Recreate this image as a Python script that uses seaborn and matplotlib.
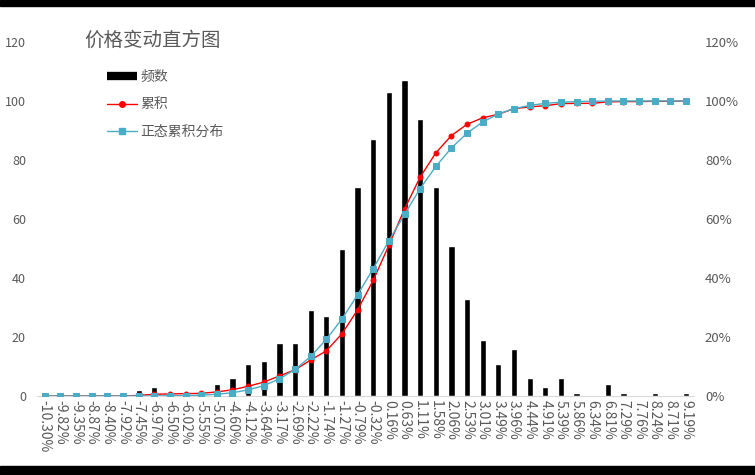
import matplotlib
matplotlib.use("Agg")
import matplotlib.pyplot as plt
import seaborn as sns
from matplotlib.lines import Line2D
from matplotlib.patches import Rectangle
from matplotlib.ticker import PercentFormatter

bins = ["-10.30%", "-9.82%", "-9.35%", "-8.87%", "-8.40%", "-7.92%", "-7.45%",
        "-6.97%", "-6.50%", "-6.02%", "-5.55%", "-5.07%", "-4.60%", "-4.12%",
        "-3.64%", "-3.17%", "-2.69%", "-2.22%", "-1.74%", "-1.27%", "-0.79%",
        "-0.32%", "0.16%", "0.63%", "1.11%", "1.58%", "2.06%", "2.53%",
        "3.01%", "3.49%", "3.96%", "4.44%", "4.91%", "5.39%", "5.86%",
        "6.34%", "6.81%", "7.29%", "7.76%", "8.24%", "8.71%", "9.19%"]

freq = [0, 0, 0, 0, 0, 0, 2, 3, 1, 1, 1, 4, 6, 11, 12, 18, 18, 29, 27, 50, 71,
        87, 103, 107, 94, 71, 51, 33, 19, 11, 16, 6, 3, 6, 1, 0, 4, 1, 0, 1, 0, 1]

# cumulative share, %
cum_pct = [0, 0, 0, 0, 0, 0, 0.2, 0.6, 0.7, 0.8, 0.9, 1.4, 2.1, 3.3, 4.7, 6.8,
           8.9, 12.2, 15.3, 21.1, 29.2, 39.2, 51.1, 63.4, 74.2, 82.4, 88.3,
           92.1, 94.3, 95.5, 97.4, 98.0, 98.4, 99.1, 99.2, 99.2, 99.7, 99.8,
           99.8, 99.9, 99.9, 100.0]

# normal cumulative distribution, %
norm_pct = [0, 0, 0, 0, 0, 0, 0, 0, 0.1, 0.1, 0.3, 0.6, 1.1, 2.1, 3.5, 5.8,
            9.0, 13.4, 19.2, 26.1, 34.3, 43.2, 52.6, 61.6, 70.3, 77.8, 84.1,
            89.1, 92.9, 95.6, 97.4, 98.5, 99.2, 99.6, 99.8, 99.9, 100.0,
            100.0, 100.0, 100.0, 100.0, 100.0]

grey = "#595959"
red = "#ff0000"
blue = "#4bacc6"

sns.set_style("white")
plt.rcParams["font.family"] = ["Noto Sans CJK SC", "DejaVu Sans"]

fig = plt.figure(figsize=(7.55, 4.75), dpi=100)
ax = fig.add_axes([0.049, 0.1663, 0.870, 0.7453])

sns.barplot(x=bins, y=freq, color="black", width=0.4, saturation=1, ax=ax)
ax.set_ylim(0, 120)
ax.set_yticks(range(0, 121, 20))

ax2 = ax.twinx()
sns.pointplot(x=bins, y=[v / 100 for v in cum_pct], color=red, markers="o",
              markersize=3.5, linewidth=1, ax=ax2)
sns.pointplot(x=bins, y=[v / 100 for v in norm_pct], color=blue, markers="s",
              markersize=4.5, linewidth=1, ax=ax2)
ax2.set_ylim(0, 1.2)
ax2.set_yticks([0, 0.2, 0.4, 0.6, 0.8, 1.0, 1.2])
ax2.yaxis.set_major_formatter(PercentFormatter(1.0, decimals=0))
ax2.set_xlim(-0.5, len(bins) - 0.5)
ax.set_xlim(-0.5, len(bins) - 0.5)

for a in (ax, ax2):
    for s in a.spines.values():
        s.set_visible(False)
    a.tick_params(length=0, colors=grey, labelsize=9.5)
    a.set_xlabel("")
    a.set_ylabel("")
    a.grid(False)
ax.spines["bottom"].set_visible(True)
ax.spines["bottom"].set_color("#d9d9d9")
ax.tick_params(axis="y", pad=8, labelsize=9)
ax2.tick_params(axis="y", pad=8)
ax.set_xticks(range(len(bins)))
ax.set_xticklabels(bins, rotation=270, va="top", ha="center", fontsize=10)
ax.tick_params(axis="x", pad=3)

fig.text(0.112, 0.915, "价格变动直方图", fontsize=14, color=grey, va="center")

handles = [
    Line2D([0], [0], color="black", lw=6, solid_capstyle="butt"),
    Line2D([0], [0], color=red, lw=1, marker="o", markersize=4),
    Line2D([0], [0], color=blue, lw=1, marker="s", markersize=5),
]
ax2.legend(handles, ["频数", "累积", "正态累积分布"], loc="upper left",
           bbox_to_anchor=(0.125, 0.88), bbox_transform=fig.transFigure,
           frameon=False, fontsize=10, labelcolor=grey, handlelength=2.2,
           handletextpad=0.2, labelspacing=1.0)

fig.patches.append(Rectangle((0, 1 - 6 / 475), 1, 6 / 475, color="black",
                             transform=fig.transFigure, figure=fig))
fig.patches.append(Rectangle((0, 0), 1, 9 / 475, color="black",
                             transform=fig.transFigure, figure=fig))

fig.savefig("out.png", dpi=100, facecolor="white")
